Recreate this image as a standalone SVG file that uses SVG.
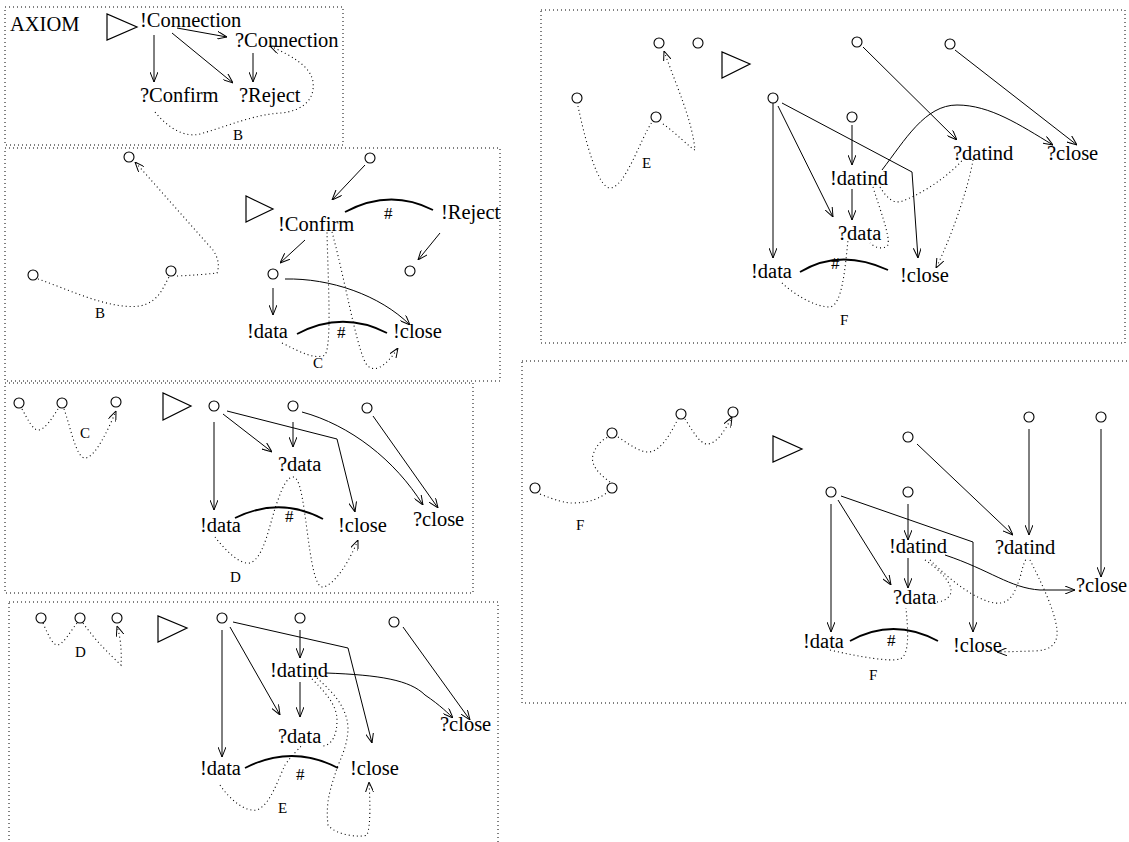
<svg xmlns="http://www.w3.org/2000/svg" width="1129" height="842" viewBox="0 0 1129 842">
<style>
.box{fill:none;stroke:#000;stroke-width:1;stroke-dasharray:1,3}
.t{font-family:"Liberation Serif",serif;font-size:20.5px;fill:#000}
.s{font-family:"Liberation Serif",serif;font-size:15px;fill:#000}
.h{font-family:"Liberation Serif",serif;font-size:17px;fill:#000}
.c{fill:#fff;stroke:#000;stroke-width:1.1}
.tri{fill:none;stroke:#000;stroke-width:1.2}
.e{fill:none;stroke:#000;stroke-width:1}
.a{fill:none;stroke:#000;stroke-width:1.8}
.d{fill:none;stroke:#000;stroke-width:1.1;stroke-dasharray:1,3}
</style>
<defs>
<marker id="ar" viewBox="0 0 10 8" refX="10" refY="4" markerWidth="10" markerHeight="8" markerUnits="userSpaceOnUse" orient="auto">
<path d="M0,0 L10,4 L0,8" fill="none" stroke="#000" stroke-width="1"/>
</marker>
</defs>
<rect width="1129" height="842" fill="#fff"/>
<g id="panels">
<rect class="box" x="5" y="7" width="338" height="138"/>
<rect class="box" x="5" y="148" width="495" height="233"/>
<rect class="box" x="5" y="383" width="468" height="210"/>
<rect class="box" x="9" y="602" width="489" height="250"/>
<rect class="box" x="541" y="10" width="584" height="333"/>
<rect class="box" x="522" y="361" width="615" height="342"/>
</g>
<g id="connectors">
<path class="e" d="M154,35 L154,82" marker-end="url(#ar)"/>
<path class="e" d="M172,33 L233,83" marker-end="url(#ar)"/>
<path class="e" d="M177,28 L227,37" marker-end="url(#ar)"/>
<path class="e" d="M253,53 L253,82" marker-end="url(#ar)"/>
<path class="d" d="M155,112 C168,128 185,138 200,134 C228,126 255,114 282,113 C305,110 315,98 313,82 C311,66 290,55 270,46" marker-end="url(#ar)"/>
<path class="d" d="M38,279 C70,290 110,310 140,306 C158,302 162,290 169,277"/>
<path class="d" d="M177,276 Q200,275 217,273 Q221,262 213,250 L135,162" marker-end="url(#ar)"/>
<path class="e" d="M365,165 L332,200" marker-end="url(#ar)"/>
<path class="a" d="M345,212 Q390,188 433,210"/>
<path class="e" d="M440,233 L418,260" marker-end="url(#ar)"/>
<path class="e" d="M305,240 L280,263" marker-end="url(#ar)"/>
<path class="e" d="M273,288 L273,315" marker-end="url(#ar)"/>
<path class="e" d="M285,279 C330,278 380,295 410,325" marker-end="url(#ar)"/>
<path class="a" d="M297,334 Q342,310 387,333"/>
<path class="d" d="M282,343 C300,352 315,360 325,355 C332,345 328,280 327,232"/>
<path class="d" d="M332,232 C345,280 355,340 365,362 C372,375 385,368 398,348" marker-end="url(#ar)"/>
<path class="d" d="M22,409 C28,420 33,430 38,430 C45,430 52,418 58,409"/>
<path class="d" d="M64,409 C70,425 76,458 85,458 C95,458 108,430 116,411" marker-end="url(#ar)"/>
<path class="e" d="M214,422 L214,510" marker-end="url(#ar)"/>
<path class="e" d="M227,411 L337,439 L355,512" marker-end="url(#ar)"/>
<path class="e" d="M223,414 L272,452" marker-end="url(#ar)"/>
<path class="e" d="M293,422 L293,447" marker-end="url(#ar)"/>
<path class="e" d="M302,412 C350,425 395,460 423,505" marker-end="url(#ar)"/>
<path class="e" d="M373,416 L438,508" marker-end="url(#ar)"/>
<path class="a" d="M235,518 Q280,496 323,519"/>
<path class="d" d="M215,537 C225,550 240,565 250,563 C265,558 270,520 278,500 C283,485 288,477 293,477 C300,477 303,500 307,530 C311,560 315,588 323,587 C335,585 350,560 358,540" marker-end="url(#ar)"/>
<path class="d" d="M43,623 C48,635 53,645 57,645 C63,645 70,632 77,623"/>
<path class="d" d="M83,623 C95,640 110,655 121,665 C122,650 120,635 117,626" marker-end="url(#ar)"/>
<path class="e" d="M222,630 L222,757" marker-end="url(#ar)"/>
<path class="e" d="M230,627 L280,715" marker-end="url(#ar)"/>
<path class="e" d="M233,622 L348,648 L372,743" marker-end="url(#ar)"/>
<path class="e" d="M300,630 L300,658" marker-end="url(#ar)"/>
<path class="e" d="M300,682 L300,717" marker-end="url(#ar)"/>
<path class="e" d="M326,673 C380,675 410,680 425,695 C440,705 450,715 453,718" marker-end="url(#ar)"/>
<path class="e" d="M403,627 L470,720" marker-end="url(#ar)"/>
<path class="a" d="M245,768 Q292,744 338,768"/>
<path class="d" d="M220,785 C230,800 245,812 257,810 C270,805 278,780 285,765 C292,755 298,750 302,745"/>
<path class="d" d="M312,679 C325,692 337,705 337,720 C337,735 332,745 323,746"/>
<path class="d" d="M317,678 C330,690 347,705 348,728 C348,745 340,760 337,768 C332,785 325,800 328,825 C335,835 360,838 367,835 C371,825 370,800 369,782" marker-end="url(#ar)"/>
<path class="d" d="M578,106 C585,140 598,188 610,188 C625,188 640,140 652,122"/>
<path class="d" d="M663,124 C675,132 690,148 695,150 C692,120 678,90 664,51" marker-end="url(#ar)"/>
<path class="e" d="M773,103 L773,258" marker-end="url(#ar)"/>
<path class="e" d="M778,106 L833,217" marker-end="url(#ar)"/>
<path class="e" d="M782,103 L912,172 L918,258" marker-end="url(#ar)"/>
<path class="e" d="M852,125 L852,165" marker-end="url(#ar)"/>
<path class="e" d="M852,189 L852,220" marker-end="url(#ar)"/>
<path class="e" d="M863,47 L957,140" marker-end="url(#ar)"/>
<path class="e" d="M955,50 L1077,145" marker-end="url(#ar)"/>
<path class="e" d="M882,170 C905,140 925,105 957,105 C990,105 1020,125 1053,145" marker-end="url(#ar)"/>
<path class="a" d="M800,272 Q840,248 888,270"/>
<path class="d" d="M782,283 C795,295 815,307 830,307 C842,305 845,270 848,240"/>
<path class="d" d="M873,187 C880,210 890,235 888,245 C884,250 875,248 870,243"/>
<path class="d" d="M880,187 C888,200 895,205 905,200 C930,190 955,170 965,157"/>
<path class="d" d="M973,160 C968,190 950,240 936,268" marker-end="url(#ar)"/>
<path class="d" d="M540,494 C555,500 565,503 572,503 C590,503 600,498 608,492"/>
<path class="d" d="M610,482 C600,475 590,465 593,455 C596,445 602,440 608,437"/>
<path class="d" d="M618,437 C630,445 640,452 648,452 C662,452 672,430 678,419"/>
<path class="d" d="M685,419 C692,430 700,444 707,444 C717,444 725,430 732,417" marker-end="url(#ar)"/>
<path class="e" d="M1029,429 L1029,535" marker-end="url(#ar)"/>
<path class="e" d="M1101,429 L1101,577" marker-end="url(#ar)"/>
<path class="e" d="M917,444 L1013,535" marker-end="url(#ar)"/>
<path class="e" d="M831,504 L831,632" marker-end="url(#ar)"/>
<path class="e" d="M838,500 L891,585" marker-end="url(#ar)"/>
<path class="e" d="M841,496 L973,542 L973,632" marker-end="url(#ar)"/>
<path class="e" d="M908,504 L908,540" marker-end="url(#ar)"/>
<path class="e" d="M908,558 L908,588" marker-end="url(#ar)"/>
<path class="e" d="M945,555 C990,570 1010,588 1040,590 L1075,590" marker-end="url(#ar)"/>
<path class="a" d="M850,641 Q893,617 938,641"/>
<path class="d" d="M830,650 C860,657 890,662 900,659 C910,655 908,630 906,608"/>
<path class="d" d="M925,560 C940,570 955,585 950,595 C946,601 940,602 935,602"/>
<path class="d" d="M930,560 C950,580 975,600 995,603 C1012,605 1015,590 1020,578 C1023,565 1025,560 1027,558"/>
<path class="d" d="M1030,560 C1040,580 1055,610 1057,630 C1058,645 1050,650 1035,651 L997,652" marker-end="url(#ar)"/>
</g>
<g id="ax-title"><text class="t" x="10" y="31">AXIOM</text></g>
<g id="ax-tri"><polygon class="tri" points="107,14 107,40 137,27"/></g>
<g id="ax-conn-out"><text class="t" x="140" y="27">!Connection</text></g>
<g id="ax-conn-in"><text class="t" x="235" y="47">?Connection</text></g>
<g id="ax-confirm-in"><text class="t" x="140" y="102">?Confirm</text></g>
<g id="ax-reject-in"><text class="t" x="239" y="102">?Reject</text></g>
<g id="ax-lbl"><text class="s" x="233" y="140">B</text></g>
<g id="b-s1"><circle class="c" cx="129" cy="157" r="5"/></g>
<g id="b-s2"><circle class="c" cx="33" cy="275" r="5"/></g>
<g id="b-s3"><circle class="c" cx="171" cy="271" r="5"/></g>
<g id="b-lbl"><text class="s" x="95" y="318">B</text></g>
<g id="b-tri"><polygon class="tri" points="246,196 246,222 273,209"/></g>
<g id="b-s4"><circle class="c" cx="370" cy="158" r="5"/></g>
<g id="b-confirm"><text class="t" x="278" y="231">!Confirm</text></g>
<g id="b-hash1"><text class="h" x="384" y="219">#</text></g>
<g id="b-reject"><text class="t" x="441" y="219">!Reject</text></g>
<g id="b-s5"><circle class="c" cx="410" cy="271" r="5"/></g>
<g id="b-s6"><circle class="c" cx="273" cy="274" r="5"/></g>
<g id="b-data"><text class="t" x="247" y="338">!data</text></g>
<g id="b-hash2"><text class="h" x="337" y="338">#</text></g>
<g id="b-close"><text class="t" x="393" y="338">!close</text></g>
<g id="b-lbl2"><text class="s" x="313" y="368">C</text></g>
<g id="c-s1"><circle class="c" cx="19" cy="403" r="5"/></g>
<g id="c-s2"><circle class="c" cx="62" cy="403" r="5"/></g>
<g id="c-s3"><circle class="c" cx="116" cy="402" r="5"/></g>
<g id="c-lbl"><text class="s" x="80" y="438">C</text></g>
<g id="c-tri"><polygon class="tri" points="163,393 163,420 191,406"/></g>
<g id="c-s4"><circle class="c" cx="214" cy="406" r="5"/></g>
<g id="c-s5"><circle class="c" cx="293" cy="406" r="5"/></g>
<g id="c-s6"><circle class="c" cx="367" cy="408" r="5"/></g>
<g id="c-qdata"><text class="t" x="278" y="471">?data</text></g>
<g id="c-data"><text class="t" x="200" y="532">!data</text></g>
<g id="c-hash"><text class="h" x="285" y="522">#</text></g>
<g id="c-close"><text class="t" x="338" y="532">!close</text></g>
<g id="c-qclose"><text class="t" x="413" y="526">?close</text></g>
<g id="c-lbl2"><text class="s" x="230" y="582">D</text></g>
<g id="d-s1"><circle class="c" cx="41" cy="618" r="5"/></g>
<g id="d-s2"><circle class="c" cx="80" cy="618" r="5"/></g>
<g id="d-s3"><circle class="c" cx="117" cy="618" r="5"/></g>
<g id="d-lbl"><text class="s" x="75" y="657">D</text></g>
<g id="d-tri"><polygon class="tri" points="158,616 158,642 187,628"/></g>
<g id="d-s4"><circle class="c" cx="222" cy="618" r="5"/></g>
<g id="d-s5"><circle class="c" cx="300" cy="618" r="5"/></g>
<g id="d-s6"><circle class="c" cx="394" cy="622" r="5"/></g>
<g id="d-datind"><text class="t" x="270" y="677">!datind</text></g>
<g id="d-qdata"><text class="t" x="278" y="743">?data</text></g>
<g id="d-qclose"><text class="t" x="440" y="731">?close</text></g>
<g id="d-data"><text class="t" x="200" y="775">!data</text></g>
<g id="d-hash"><text class="h" x="296" y="780">#</text></g>
<g id="d-close"><text class="t" x="350" y="775">!close</text></g>
<g id="d-lbl2"><text class="s" x="278" y="813">E</text></g>
<g id="e-s1"><circle class="c" cx="659" cy="43" r="5"/></g>
<g id="e-s2"><circle class="c" cx="698" cy="43" r="5"/></g>
<g id="e-s3"><circle class="c" cx="577" cy="98" r="5"/></g>
<g id="e-s4"><circle class="c" cx="656" cy="117" r="5"/></g>
<g id="e-lbl"><text class="s" x="642" y="168">E</text></g>
<g id="e-tri"><polygon class="tri" points="722,52 722,78 750,64"/></g>
<g id="e-s5"><circle class="c" cx="773" cy="98" r="5"/></g>
<g id="e-s6"><circle class="c" cx="857" cy="42" r="5"/></g>
<g id="e-s7"><circle class="c" cx="950" cy="44" r="5"/></g>
<g id="e-s8"><circle class="c" cx="852" cy="117" r="5"/></g>
<g id="e-datind"><text class="t" x="830" y="185">!datind</text></g>
<g id="e-qdatind"><text class="t" x="953" y="160">?datind</text></g>
<g id="e-qclose"><text class="t" x="1047" y="160">?close</text></g>
<g id="e-qdata"><text class="t" x="838" y="240">?data</text></g>
<g id="e-data"><text class="t" x="751" y="278">!data</text></g>
<g id="e-hash"><text class="h" x="831" y="269">#</text></g>
<g id="e-close"><text class="t" x="900" y="282">!close</text></g>
<g id="e-lbl2"><text class="s" x="840" y="325">F</text></g>
<g id="f-s1"><circle class="c" cx="535" cy="488" r="5"/></g>
<g id="f-s2"><circle class="c" cx="612" cy="488" r="5"/></g>
<g id="f-s3"><circle class="c" cx="612" cy="433" r="5"/></g>
<g id="f-s4"><circle class="c" cx="681" cy="414" r="5"/></g>
<g id="f-s5"><circle class="c" cx="733" cy="412" r="5"/></g>
<g id="f-lbl"><text class="s" x="576" y="530">F</text></g>
<g id="f-tri"><polygon class="tri" points="773,436 773,462 802,449"/></g>
<g id="f-s6"><circle class="c" cx="908" cy="437" r="5"/></g>
<g id="f-s7"><circle class="c" cx="1029" cy="417" r="5"/></g>
<g id="f-s8"><circle class="c" cx="1101" cy="417" r="5"/></g>
<g id="f-s9"><circle class="c" cx="831" cy="492" r="5"/></g>
<g id="f-s10"><circle class="c" cx="908" cy="492" r="5"/></g>
<g id="f-datind"><text class="t" x="889" y="553">!datind</text></g>
<g id="f-qdatind"><text class="t" x="995" y="554">?datind</text></g>
<g id="f-qclose"><text class="t" x="1076" y="592">?close</text></g>
<g id="f-qdata"><text class="t" x="893" y="604">?data</text></g>
<g id="f-data"><text class="t" x="803" y="648">!data</text></g>
<g id="f-hash"><text class="h" x="887" y="646">#</text></g>
<g id="f-close"><text class="t" x="953" y="652">!close</text></g>
<g id="f-lbl2"><text class="s" x="869" y="680">F</text></g>
</svg>
